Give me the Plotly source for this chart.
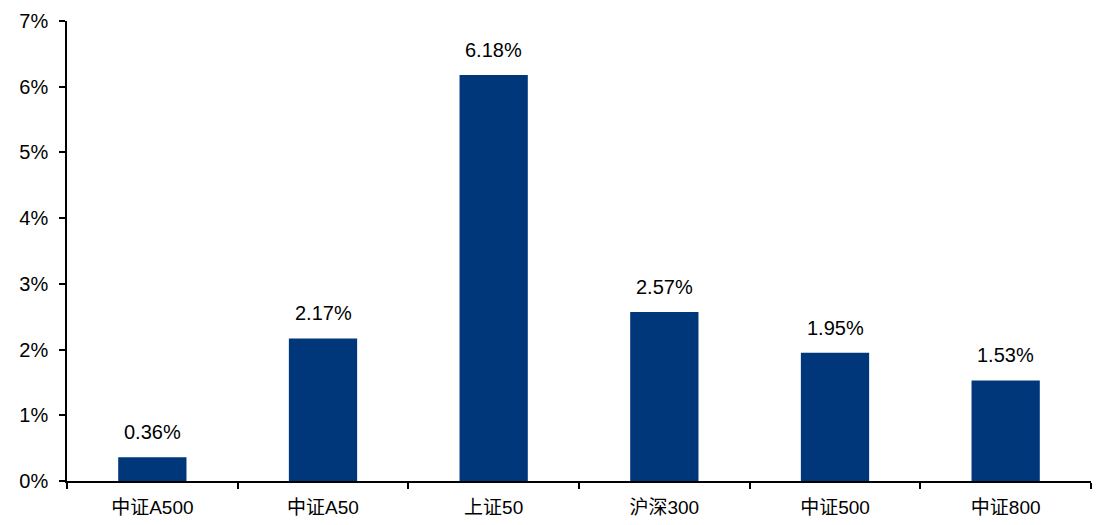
import plotly.graph_objects as go

categories = ["中证A500", "中证A50", "上证50", "沪深300", "中证500", "中证800"]
values = [0.36, 2.17, 6.18, 2.57, 1.95, 1.53]
y_ticks = [0, 1, 2, 3, 4, 5, 6, 7]
y_tick_labels = [f"{v}%" for v in y_ticks]

bar_color = "#00377A"
font_family = "Liberation Sans, Arial, Noto Sans CJK SC, sans-serif"

fig = go.Figure()
fig.add_trace(go.Bar(
    x=categories, y=values, marker=dict(color=bar_color, line=dict(width=0)),
    width=0.4, showlegend=False,
))
for c, v in zip(categories, values):
    fig.add_annotation(x=c, y=v, text=f"{v:.2f}%", showarrow=False,
                       yanchor="bottom", yshift=12,
                       font=dict(size=20, color="#000000", family=font_family))

fig.update_layout(
    width=1110, height=525,
    margin=dict(l=59, r=27, t=13, b=52),
    plot_bgcolor="white", paper_bgcolor="white",
    font=dict(family=font_family, size=20, color="#000000"),
    bargap=0.6,
)
fig.update_yaxes(
    range=[0, 7], tickvals=y_ticks, ticktext=y_tick_labels, automargin=False,
    showgrid=False, zeroline=False, showline=True, linecolor="#000000", linewidth=1.5,
    ticks="outside", ticklen=6, tickcolor="#000000", tickwidth=1.5,
    tickfont=dict(size=20), ticklabelstandoff=7,
)
fig.update_xaxes(
    automargin=False,
    showgrid=False, showline=True, linecolor="#000000", linewidth=1.5,
    ticks="outside", tickson="boundaries", ticklen=6, tickcolor="#000000", tickwidth=1.5,
    tickfont=dict(size=19), ticklabelstandoff=8,
)

fig.write_html("out.html")
